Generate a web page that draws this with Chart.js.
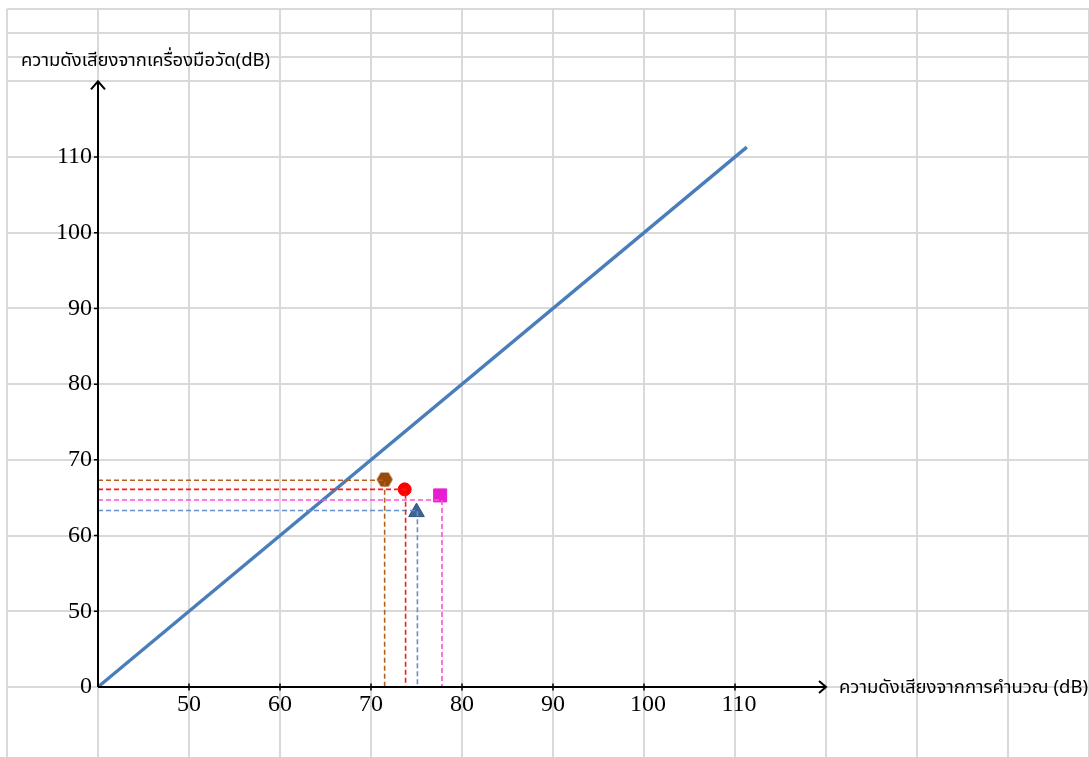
<!DOCTYPE html>
<html>
<head>
<meta charset="utf-8">
<script src="https://cdn.jsdelivr.net/npm/chart.js@4"></script>
<style>
  html, body { margin: 0; padding: 0; background: #fff; }
  #wrap { width: 1089px; height: 757px; position: relative; }
</style>
</head>
<body>
<div id="wrap"><canvas id="chart"></canvas></div>
<script>
// Data.
const axisOrigin = 40;   // both axes start here (y origin is labelled "0")
const axisEnd = 120;     // where the arrow heads sit

// reference line y = x
const refLineX = [40, 111.3];
const refLineY = [40, 111.3];

// measured points: calculated dB (x) vs instrument dB (y)
const pointX = [71.5, 73.7, 77.6, 75.0];
const pointY = [67.4, 66.1, 65.3, 63.1];
// dashed guides from each point to the axes
const guideX = [71.5, 73.8, 77.8, 75.1];
const guideY = [67.3, 66.1, 64.7, 63.3];

const xTicks = [50, 60, 70, 80, 90, 100, 110];
const yTicks = [40, 50, 60, 70, 80, 90, 100, 110];
const yTickLabels = ['0', '50', '60', '70', '80', '90', '100', '110'];

// background grid rows (last three rows are narrower)
const gridYValues = [40, 50, 60, 70, 80, 90, 100, 110, 120, 123.2, 126.4, 129.55];

const xTitle = 'ความดังเสียงจากการคำนวณ (dB)';
const yTitle = 'ความดังเสียงจากเครื่องมือวัด(dB)';

// Styles.
const markerColors = ['#9a4a08', '#ff0000', '#e620d0', '#3d6494'];
const guideColors = ['#b2621e', '#ff1a1a', '#ff4fd8', '#6690cc'];
const thaiFont = '"Noto Sans Thai", "Noto Sans", "DejaVu Sans", sans-serif';

// hexagon marker (not a built-in point style)
const makeHexagon = (color) => {
  const c = document.createElement('canvas');
  c.width = 18;
  c.height = 16;
  const g = c.getContext('2d');
  g.fillStyle = color;
  g.beginPath();
  g.moveTo(1, 8);
  g.lineTo(5, 1);
  g.lineTo(13, 1);
  g.lineTo(17, 8);
  g.lineTo(13, 15);
  g.lineTo(5, 15);
  g.closePath();
  g.fill();
  return c;
};

const pointStyles = [makeHexagon(markerColors[0]), 'circle', 'rect', 'triangle'];
const pointRadii = [8, 6.5, 9.2, 9];

const datasets = [];

// guides first so markers sit on top
guideX.forEach((gx, i) => {
  datasets.push({
    data: [{x: axisOrigin, y: guideY[i]}, {x: gx, y: guideY[i]}, {x: gx, y: axisOrigin}],
    showLine: true,
    borderColor: guideColors[i],
    borderWidth: 1.6,
    borderDash: [5, 3],
    pointRadius: 0,
    fill: false,
  });
});

datasets.push({
  data: refLineX.map((v, i) => ({x: v, y: refLineY[i]})),
  showLine: true,
  borderColor: '#4a7ebb',
  borderWidth: 3.4,
  pointRadius: 0,
  fill: false,
});

pointX.forEach((px, i) => {
  datasets.push({
    data: [{x: px, y: pointY[i]}],
    pointStyle: pointStyles[i],
    pointRadius: pointRadii[i],
    backgroundColor: markerColors[i],
    borderColor: i === 3 ? '#2f5283' : markerColors[i],
    borderWidth: 1,
  });
});

// axes with arrows, tick labels and titles
const axesPlugin = {
  id: 'axes',
  afterDatasetsDraw(chart) {
    const {ctx, scales: {x, y}} = chart;
    const ox = x.getPixelForValue(axisOrigin);
    const oy = y.getPixelForValue(axisOrigin);
    const xEnd = x.getPixelForValue(axisEnd);
    const yEnd = y.getPixelForValue(axisEnd);

    ctx.save();
    ctx.strokeStyle = '#000';
    ctx.lineWidth = 2;
    ctx.lineJoin = 'miter';
    ctx.beginPath();
    ctx.moveTo(ox, oy);
    ctx.lineTo(xEnd, oy);
    ctx.moveTo(ox, oy);
    ctx.lineTo(ox, yEnd);
    ctx.stroke();

    ctx.beginPath();
    ctx.moveTo(xEnd - 7, oy - 6);
    ctx.lineTo(xEnd, oy);
    ctx.lineTo(xEnd - 7, oy + 6);
    ctx.moveTo(ox - 7, yEnd + 8);
    ctx.lineTo(ox, yEnd);
    ctx.lineTo(ox + 7, yEnd + 8);
    ctx.stroke();

    // tick marks
    ctx.lineWidth = 1.5;
    ctx.beginPath();
    xTicks.forEach((v) => {
      const px = x.getPixelForValue(v);
      ctx.moveTo(px, oy - 3.5);
      ctx.lineTo(px, oy + 3.5);
    });
    yTicks.slice(1).forEach((v) => {
      const py = y.getPixelForValue(v);
      ctx.moveTo(ox - 4, py);
      ctx.lineTo(ox, py);
    });
    ctx.stroke();

    // tick labels
    ctx.fillStyle = '#000';
    ctx.font = '24px "Liberation Serif", "Times New Roman", serif';
    ctx.textAlign = 'center';
    ctx.textBaseline = 'middle';
    xTicks.forEach((v) => {
      const shift = v >= 100 ? 4 : 0;
      ctx.fillText(String(v), x.getPixelForValue(v) + shift, oy + 18);
    });
    ctx.textAlign = 'right';
    yTicks.forEach((v, i) => {
      ctx.fillText(yTickLabels[i], ox - 6, y.getPixelForValue(v));
    });

    // titles
    ctx.font = '18.5px ' + thaiFont;
    ctx.textAlign = 'left';
    ctx.textBaseline = 'alphabetic';
    ctx.fillText(yTitle, 21, 66);
    ctx.fillText(xTitle, xEnd + 13, oy + 6);
    ctx.restore();
  }
};

new Chart(document.getElementById('chart'), {
  type: 'scatter',
  data: {datasets},
  options: {
    responsive: true,
    maintainAspectRatio: false,
    animation: false,
    layout: {autoPadding: false, padding: {left: 7, top: 9, right: 0, bottom: 0}},
    plugins: {legend: {display: false}, tooltip: {enabled: false}},
    scales: {
      x: {
        type: 'linear',
        min: 30,
        max: 148.9,
        ticks: {display: false, stepSize: 10},
        grid: {color: '#d9d9d9', lineWidth: 2, drawTicks: false},
        border: {display: false},
      },
      y: {
        type: 'linear',
        min: 30.75,
        max: 129.55,
        afterBuildTicks: (scale) => {
          scale.ticks = gridYValues.map((v) => ({value: v}));
        },
        ticks: {display: false},
        grid: {color: '#d9d9d9', lineWidth: 2, drawTicks: false},
        border: {display: false},
      },
    },
  },
  plugins: [axesPlugin],
});
</script>
</body>
</html>
